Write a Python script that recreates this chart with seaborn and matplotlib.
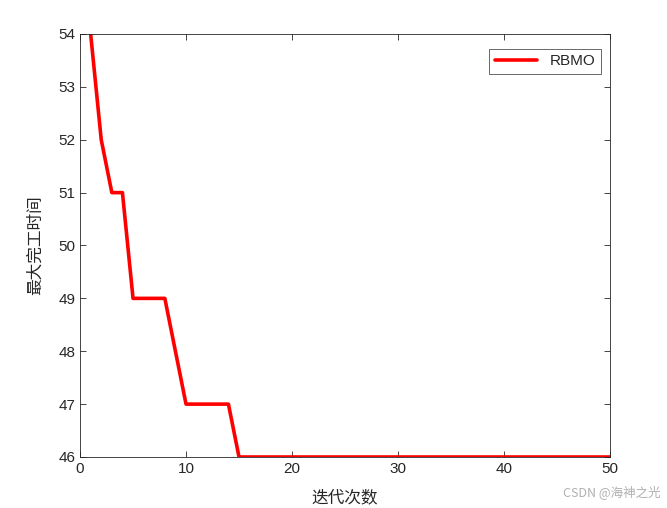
import matplotlib
matplotlib.use('Agg')
import matplotlib.pyplot as plt
import seaborn as sns
import pandas as pd

# Data
iterations = list(range(1, 51))
makespan = [54, 52, 51, 51, 49, 49, 49, 49, 48, 47,
            47, 47, 47, 47] + [46] * 36
series_name = 'RBMO'

df = pd.DataFrame({'iter': iterations, 'val': makespan})

sns.set_style('white')
plt.rcParams['font.family'] = ['Liberation Sans', 'Noto Sans CJK SC', 'DejaVu Sans']

fig = plt.figure(figsize=(6.67, 5.08), dpi=100)
ax = fig.add_axes([0.12, 0.1004, 0.7945, 0.8327])

sns.lineplot(data=df, x='iter', y='val', color='#ff0000', linewidth=2.6,
             label=series_name, ax=ax)

ax.set_xlim(0, 50)
ax.set_ylim(46, 54)
ax.set_xticks([0, 10, 20, 30, 40, 50])
ax.set_yticks(range(46, 55))
ax.tick_params(direction='in', length=4, width=0.6, labelsize=11,
               colors='#262626', top=True, right=True, bottom=True, left=True)
for s in ax.spines.values():
    s.set_color('#262626')
    s.set_linewidth(0.6)

ax.set_xlabel('迭代次数', fontsize=12, family=['Noto Sans CJK SC'], color='#262626',
              labelpad=10)
ax.set_ylabel('最大完工时间', fontsize=12, family=['Noto Sans CJK SC'], color='#262626',
              labelpad=10)

leg = ax.legend(loc='upper right', fontsize=11, frameon=True, fancybox=False,
                handlelength=2.8, borderpad=0.35, bbox_to_anchor=(0.997, 0.983))
leg.get_frame().set_edgecolor('#262626')
leg.get_frame().set_linewidth(0.6)

fig.text(0.99, 0.018, 'CSDN @海神之光', ha='right', va='bottom', fontsize=9,
         color='#b0b0b0', family=['Noto Sans CJK SC'])

fig.savefig('out.png', dpi=100)
